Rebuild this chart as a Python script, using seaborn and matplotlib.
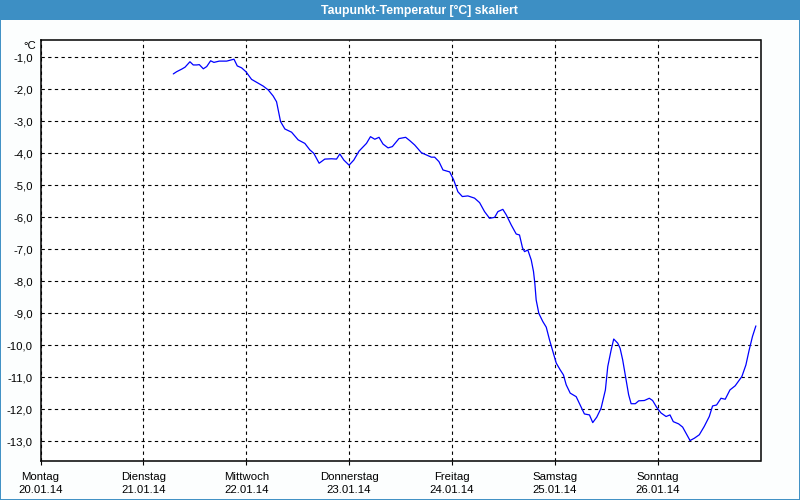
import matplotlib
matplotlib.use("Agg")
import matplotlib.pyplot as plt
import matplotlib.patches as mpatches
from matplotlib.ticker import FixedLocator, FuncFormatter
import seaborn as sns
import pandas as pd

# ---- data (time in days since Monday 20.01.14 00:00, dew point in °C) ----
days = [1.291, 1.324, 1.373, 1.405, 1.453, 1.485, 1.518, 1.544, 1.583, 1.616,
        1.654, 1.686, 1.738, 1.810, 1.858, 1.881, 1.913, 1.955, 1.997, 2.052,
        2.117, 2.165, 2.214, 2.262, 2.295, 2.334, 2.376, 2.441, 2.505, 2.570,
        2.618, 2.657, 2.709, 2.764, 2.829, 2.878, 2.910, 2.949, 3.000, 3.046,
        3.097, 3.169, 3.208, 3.250, 3.291, 3.330, 3.379, 3.421, 3.485, 3.550,
        3.589, 3.638, 3.703, 3.751, 3.800, 3.832, 3.874, 3.913, 3.978, 4.017,
        4.058, 4.101, 4.155, 4.220, 4.269, 4.317, 4.366, 4.415, 4.447, 4.495,
        4.528, 4.577, 4.625, 4.657, 4.686, 4.706, 4.738, 4.771, 4.793, 4.806,
        4.819, 4.845, 4.883, 4.917, 4.949, 4.981, 5.014, 5.052, 5.084, 5.111,
        5.150, 5.208, 5.247, 5.288, 5.337, 5.369, 5.408, 5.450, 5.492, 5.515,
        5.548, 5.573, 5.612, 5.635, 5.660, 5.693, 5.718, 5.742, 5.783, 5.816,
        5.871, 5.919, 5.951, 5.990, 6.033, 6.082, 6.120, 6.152, 6.204, 6.243,
        6.276, 6.315, 6.356, 6.405, 6.453, 6.502, 6.534, 6.573, 6.616, 6.657,
        6.703, 6.754, 6.819, 6.858, 6.890, 6.922, 6.955]
dewpoint = [-1.52, -1.45, -1.37, -1.31, -1.14, -1.24, -1.24, -1.23, -1.36, -1.29,
            -1.11, -1.16, -1.12, -1.12, -1.08, -1.06, -1.27, -1.33, -1.45, -1.69,
            -1.81, -1.90, -2.02, -2.21, -2.39, -3.01, -3.24, -3.34, -3.58, -3.69,
            -3.89, -4.00, -4.31, -4.18, -4.17, -4.18, -4.02, -4.21, -4.37, -4.21,
            -3.93, -3.69, -3.48, -3.56, -3.50, -3.71, -3.83, -3.79, -3.54, -3.50,
            -3.60, -3.74, -3.98, -4.05, -4.12, -4.12, -4.26, -4.52, -4.58, -4.83,
            -5.20, -5.35, -5.33, -5.40, -5.54, -5.82, -6.03, -6.00, -5.82, -5.75,
            -5.92, -6.24, -6.52, -6.55, -6.95, -7.07, -7.02, -7.33, -7.69, -8.06,
            -8.58, -9.00, -9.25, -9.43, -9.83, -10.19, -10.55, -10.76, -10.92, -11.23,
            -11.49, -11.60, -11.86, -12.14, -12.17, -12.41, -12.24, -11.96, -11.39, -10.66,
            -10.14, -9.80, -9.93, -10.09, -10.45, -11.08, -11.54, -11.82, -11.82, -11.73,
            -11.72, -11.65, -11.72, -11.93, -12.11, -12.22, -12.17, -12.38, -12.45, -12.55,
            -12.74, -12.97, -12.90, -12.79, -12.53, -12.22, -11.89, -11.86, -11.65, -11.68,
            -11.39, -11.26, -10.97, -10.61, -10.14, -9.72, -9.39]

day_names = ["Montag", "Dienstag", "Mittwoch", "Donnerstag", "Freitag", "Samstag", "Sonntag"]
dates = ["20.01.14", "21.01.14", "22.01.14", "23.01.14", "24.01.14", "25.01.14", "26.01.14"]
y_ticks = [-1, -2, -3, -4, -5, -6, -7, -8, -9, -10, -11, -12, -13]
title = "Taupunkt-Temperatur [°C] skaliert"
unit = "°C"

df = pd.DataFrame({"t": days, "v": dewpoint})

sns.set_style("white")
plt.rcParams["font.family"] = ["Liberation Sans", "DejaVu Sans"]
plt.rcParams["font.size"] = 8

fig = plt.figure(figsize=(8, 5), dpi=100)
fig.patch.set_facecolor("#fcfefe")

# title bar
fig.add_artist(mpatches.Rectangle((0, 1 - 20 / 500), 1, 20 / 500, transform=fig.transFigure,
                                  facecolor="#3d8fc4", edgecolor="none", zorder=0))
fig.text(0.524, 1 - 10.5 / 500, title, color="white", fontweight="bold", fontsize=8.8,
         ha="center", va="center")
# outer border
fig.add_artist(mpatches.Rectangle((0.0006, 0.001), 0.9988, 0.998, transform=fig.transFigure,
                                  facecolor="none", edgecolor="#3d8fc4", linewidth=1.4, zorder=5))

ax = fig.add_axes([40.5 / 800, 1 - 460.7 / 500, 720 / 800, 420.4 / 500])
ax.set_facecolor("white")

sns.lineplot(data=df, x="t", y="v", ax=ax, color="#0000ff", linewidth=0.9, sort=False)

ax.set_xlim(0, 7)
ax.set_ylim(-13.6, -0.47)
ax.set_xlabel("")
ax.set_ylabel("")

ax.xaxis.set_major_locator(FixedLocator(list(range(len(day_names)))))
ax.set_xticklabels([f"{d}\n{t}" for d, t in zip(day_names, dates)], linespacing=1.35)
ax.yaxis.set_major_locator(FixedLocator(y_ticks))
ax.yaxis.set_major_formatter(FuncFormatter(lambda v, p: f"{v:.1f}".replace(".", ",")))

ax.tick_params(axis="x", length=3, width=0.8, color="black", pad=5, labelsize=8.2, bottom=True)
ax.tick_params(axis="y", length=0, pad=5.5, labelsize=8.2, left=True)
for lbl in ax.get_xticklabels() + ax.get_yticklabels():
    lbl.set_color("black")

ax.grid(True, color="black", linestyle=(0, (3, 3)), linewidth=0.8)
for s in ax.spines.values():
    s.set_visible(True)
    s.set_color("black")
    s.set_linewidth(1.1)

fig.text(36 / 800, 1 - 46 / 500, unit, ha="right", va="center", fontsize=8.2, color="black")

fig.savefig("out.png", dpi=100, facecolor=fig.get_facecolor())
